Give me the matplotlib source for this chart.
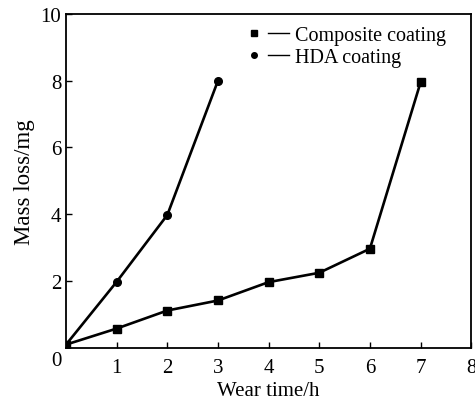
import matplotlib
matplotlib.use('Agg')
import matplotlib.pyplot as plt
from matplotlib.lines import Line2D
from matplotlib.legend_handler import HandlerTuple

plt.rcParams['font.family'] = ['Liberation Serif', 'DejaVu Serif']

composite_t = [0, 1, 2, 3, 4, 5, 6, 7]
composite_loss = [0.1, 0.58, 1.12, 1.42, 1.97, 2.25, 2.97, 7.95]
hda_t = [0, 1, 2, 3]
hda_loss = [0.1, 1.98, 3.98, 8.0]

fig = plt.figure(figsize=(4.75, 4.02), dpi=100)
ax = fig.add_axes([0.139, 0.132, 0.853, 0.831])

ax.plot(composite_t, composite_loss, color='black', lw=1.9, marker='s', ms=5.5)
ax.plot(hda_t, hda_loss, color='black', lw=1.9, marker='o', ms=5.5)

ax.set_xlim(0, 8)
ax.set_ylim(0, 10)
ax.set_xticks([1, 2, 3, 4, 5, 6, 7, 8])
ax.set_yticks([2, 4, 6, 8, 10])
ax.text(-0.08, -0.1, '0', fontsize=15, ha='right', va='top', transform=ax.transData)
ax.tick_params(direction='in', length=4, width=1, labelsize=15)
ax.tick_params(axis='x', pad=7)
for s in ax.spines.values():
    s.set_linewidth(1.3)

ax.set_xlabel('Wear time/h', fontsize=15, labelpad=3)
ax.set_ylabel('Mass loss/mg', fontsize=16.5, labelpad=4)

# legend: marker followed by a short line
h1 = (Line2D([], [], color='black', marker='s', ms=4, ls='none'),
      Line2D([], [], color='black', lw=1))
h2 = (Line2D([], [], color='black', marker='o', ms=4, ls='none'),
      Line2D([], [], color='black', lw=1))
ax.legend([h1, h2], ['Composite coating', 'HDA coating'],
          handler_map={tuple: HandlerTuple(ndivide=2, pad=0.2)},
          loc='upper left', bbox_to_anchor=(0.41, 1.0), frameon=False,
          fontsize=14.5, handlelength=2.2, handletextpad=0.3,
          labelspacing=0.15, borderaxespad=0.2)

plt.savefig('out.png', dpi=100)
